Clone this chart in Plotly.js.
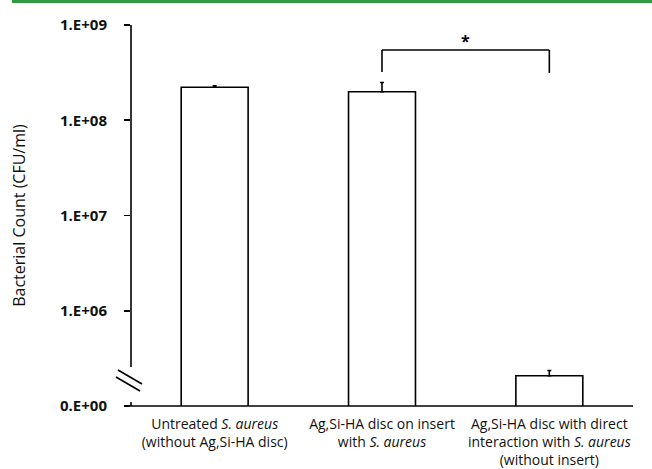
<!DOCTYPE html>
<html>
<head>
<meta charset="utf-8">
<script src="https://cdn.plot.ly/plotly-3.0.1.min.js"></script>
<style>html,body{margin:0;padding:0;background:#fff;}#chart{width:652px;height:469px;}</style>
</head>
<body>
<div id="chart"></div>
<script>
// ---- data ----
var categories = ["untreated", "insert", "direct"];
var categoryLabels = [
  "Untreated <i>S. aureus</i><br>(without Ag,Si-HA disc)",
  "Ag,Si-HA disc on insert<br>with <i>S. aureus</i>",
  "Ag,Si-HA disc with direct<br>interaction with <i>S. aureus</i><br>(without insert)"
];
var counts = [2.22e8, 1.99e8, 2.08e5];
var errors = [0.08e8, 0.5e8, 0.28e5];
var yTickVals = [1e5, 1e6, 1e7, 1e8, 1e9];
var yTickText = ["0.E+00", "1.E+06", "1.E+07", "1.E+08", "1.E+09"];
var sigPair = [1, 2];
var sigLabel = "*";

// ---- layout helpers (pixel -> paper) ----
var W = 652, H = 469, L = 131, R = 633, T = 25, B = 406;
function px(x){ return (x - L) / (R - L); }
function py(y){ return (B - y) / (B - T); }

var trace = {
  type: "bar",
  x: categories,
  y: counts,
  marker: {color: "#ffffff", line: {color: "#000000", width: 1.6}},
  error_y: {type: "data", array: errors, arrayminus: errors.map(function(){return 0;}), symmetric: false,
            color: "#000000", thickness: 1.6, width: 2},
  hoverinfo: "none"
};

var lineStyle = {color: "#000000", width: 1.6};
var shapes = [
  {type: "line", xref: "paper", yref: "paper", x0: px(12), x1: px(652), y0: py(1.5), y1: py(1.5),
   line: {color: "#2f9a41", width: 3}},
  {type: "line", xref: "paper", yref: "paper", x0: 0, x1: 0, y0: py(367), y1: 1, line: lineStyle},
  {type: "line", xref: "paper", yref: "paper", x0: 0, x1: 0, y0: 0, y1: py(402), line: lineStyle},
  {type: "line", xref: "paper", yref: "paper", x0: px(118), y0: py(370), x1: px(142), y1: py(384), line: lineStyle},
  {type: "line", xref: "paper", yref: "paper", x0: px(116), y0: py(377), x1: px(140), y1: py(391), line: lineStyle},
  {type: "line", xref: "paper", yref: "paper", x0: px(124), x1: 1, y0: 0, y1: 0, line: lineStyle},
  {type: "line", xref: "x", yref: "paper", x0: sigPair[0], x1: sigPair[0], y0: py(72), y1: py(50), line: lineStyle},
  {type: "line", xref: "x", yref: "paper", x0: sigPair[0], x1: sigPair[1], y0: py(50), y1: py(50), line: lineStyle},
  {type: "line", xref: "x", yref: "paper", x0: sigPair[1], x1: sigPair[1], y0: py(50), y1: py(73), line: lineStyle}
];

var layout = {
  width: W, height: H,
  margin: {l: L, r: W - R, t: T, b: H - B, pad: 0},
  paper_bgcolor: "#ffffff", plot_bgcolor: "#ffffff",
  showlegend: false, hovermode: false,
  bargap: 0.6,
  font: {family: "Open Sans, Liberation Sans, sans-serif", color: "#111111"},
  xaxis: {
    type: "category",
    tickvals: categories, ticktext: categoryLabels,
    showline: false, showgrid: false, zeroline: false, ticks: "",
    ticklabelstandoff: 8,
    tickfont: {family: "Open Sans, sans-serif", size: 14, color: "#111111"},
    fixedrange: true
  },
  yaxis: {
    type: "log", range: [5, 9],
    tickvals: yTickVals, ticktext: yTickText,
    ticks: "outside", ticklen: 6, tickwidth: 1.6, tickcolor: "#000000",
    ticklabelstandoff: 14,
    showline: false, showgrid: false, zeroline: false,
    tickfont: {family: "Open Sans, sans-serif", size: 15, color: "#111111", weight: "bold"},
    title: {text: "Bacterial Count (CFU/ml)", font: {family: "Open Sans, sans-serif", size: 16, color: "#111111"}, standoff: 30},
    fixedrange: true
  },
  shapes: shapes,
  annotations: [
    {xref: "x", yref: "paper", x: (sigPair[0] + sigPair[1]) / 2, y: py(41), text: "<b>" + sigLabel + "</b>",
     showarrow: false, font: {size: 16, color: "#000000"}, yanchor: "middle"}
  ]
};

Plotly.newPlot("chart", [trace], layout, {displayModeBar: false, staticPlot: true});
</script>
</body>
</html>
